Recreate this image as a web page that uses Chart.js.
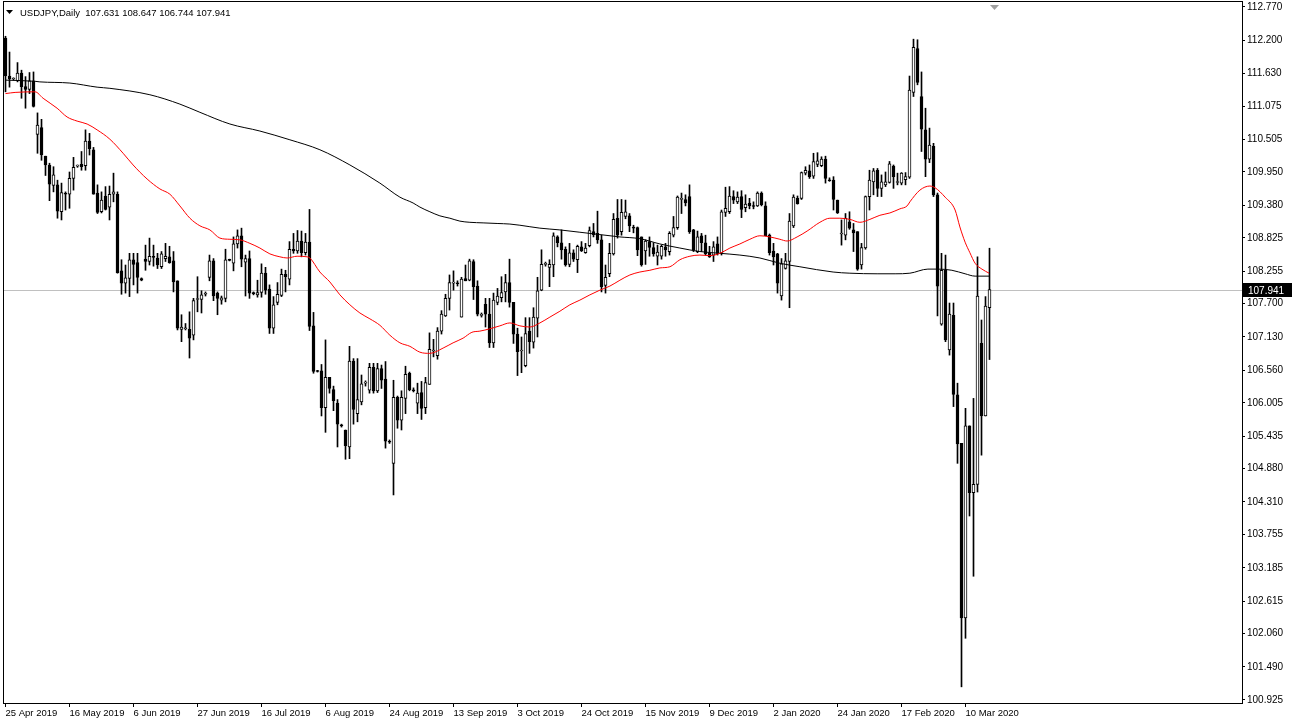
<!DOCTYPE html>
<html><head><meta charset="utf-8">
<script src="https://cdn.jsdelivr.net/npm/chart.js@4.4.1/dist/chart.umd.min.js"></script>
<style>html,body{margin:0;padding:0;background:#fff;overflow:hidden}canvas{display:block}</style>
</head><body>
<canvas id="c" width="1292" height="726" style="width:1292px;height:726px"></canvas>
<script>
const symbolTitle = 'USDJPY,Daily';
const opens = [112.24,111.59,111.54,111.51,111.64,111.41,111.36,111.51,110.59,110.71,110.22,110.07,109.72,109.73,109.27,109.59,109.57,109.84,110.05,110.08,110.06,110.48,110.33,109.59,109.27,109.54,109.35,109.57,109.57,108.26,108.05,108.13,108.45,108.40,108.13,108.46,108.42,108.51,108.48,108.33,108.47,108.50,108.43,108.09,107.26,107.27,107.26,107.16,107.77,107.77,107.86,108.15,108.43,107.88,107.76,107.79,108.45,108.39,108.72,108.86,108.41,108.47,107.88,107.85,107.89,108.22,107.95,107.28,107.72,107.84,108.20,108.12,108.63,108.60,108.77,108.57,108.75,107.32,106.55,106.55,105.92,106.44,106.23,106.00,105.62,105.54,105.25,106.72,105.82,106.02,106.34,106.22,106.61,106.21,106.59,106.41,105.34,104.97,106.10,105.71,106.08,106.51,106.22,106.00,106.18,105.92,106.32,106.89,106.81,107.23,107.49,107.79,108.05,108.05,107.47,108.13,108.10,108.42,108.00,107.50,107.69,107.52,107.03,107.72,107.80,107.90,108.06,107.72,107.18,106.89,106.64,107.23,107.04,107.45,107.93,108.37,108.32,108.36,108.84,108.74,108.63,108.37,108.57,108.45,108.67,108.57,108.69,108.93,108.90,108.79,108.01,108.21,108.55,109.16,108.93,109.19,109.20,109.00,109.00,108.84,108.60,108.76,108.66,108.51,108.51,108.67,108.59,108.87,109.00,109.48,109.48,109.53,108.96,108.59,108.86,108.74,108.56,108.53,108.72,108.56,109.26,109.27,109.53,109.44,109.53,109.34,109.42,109.37,109.37,109.59,109.37,108.87,108.60,108.55,107.83,108.30,108.42,109.03,109.50,109.50,109.93,109.97,109.88,110.08,110.06,110.17,109.81,109.81,109.47,108.89,108.87,109.10,108.96,108.93,108.36,108.65,109.53,109.78,109.98,109.67,109.73,109.77,110.05,109.77,109.76,109.82,109.86,111.31,112.06,111.24,110.67,110.17,110.39,109.56,107.35,108.27,106.91,107.50,106.14,105.31,102.33,105.61,104.47,104.61,107.02,105.78,107.631];
const highs = [112.27,112.00,111.56,111.82,111.69,111.58,111.65,111.66,110.96,110.85,110.22,110.10,110.04,109.81,109.76,109.61,109.95,110.20,110.07,110.30,110.67,110.61,110.37,109.73,109.61,109.70,109.71,109.93,109.61,108.45,108.36,108.56,108.56,108.56,108.14,108.70,108.82,108.70,108.56,108.59,108.73,108.68,108.59,108.09,107.51,107.36,107.56,107.79,108.16,107.92,107.90,108.53,108.47,107.90,107.83,108.63,108.46,108.84,108.96,108.99,108.53,108.60,107.90,108.10,108.38,108.32,108.02,107.82,108.06,108.29,108.27,108.76,108.90,108.95,108.94,108.90,109.31,107.55,106.56,106.66,107.08,106.44,106.29,106.06,105.64,105.54,106.97,106.76,106.76,106.48,106.38,106.68,106.68,106.68,106.65,106.71,105.37,106.39,106.12,106.21,106.63,106.53,106.26,106.34,106.37,106.44,107.20,107.09,107.29,107.58,107.86,108.19,108.26,108.09,108.15,108.36,108.46,108.45,108.09,107.54,107.79,107.79,107.88,107.96,108.16,108.20,108.46,107.72,107.28,107.13,107.46,107.46,107.63,108.15,108.62,108.41,108.45,108.91,108.86,108.96,108.67,108.73,108.62,108.70,108.76,108.73,109.01,109.07,109.28,108.87,108.36,108.73,109.24,109.48,109.48,109.47,109.24,109.04,109.01,108.84,108.79,108.84,108.74,108.70,108.70,108.73,108.93,109.19,109.54,109.59,109.56,109.73,108.97,108.94,108.90,108.87,108.68,108.76,108.84,109.30,109.69,109.70,109.63,109.61,109.63,109.56,109.50,109.44,109.61,109.61,109.44,108.89,108.73,108.56,108.47,108.56,109.24,109.56,109.54,109.95,110.04,110.07,110.27,110.28,110.21,110.22,109.85,109.87,109.47,109.13,109.24,109.27,109.07,108.93,108.73,109.54,109.98,110.01,110.01,109.90,109.95,110.13,110.07,109.93,109.94,109.94,111.59,112.22,112.21,111.66,111.04,110.70,110.44,109.59,108.56,108.53,107.71,107.71,106.34,105.31,105.91,105.61,106.08,108.50,107.42,107.82,108.647];
const lows = [111.32,111.40,111.52,111.49,111.21,111.04,111.29,111.06,110.27,110.15,109.89,109.46,109.61,109.16,109.13,109.30,109.33,109.64,110.03,109.98,109.98,110.24,109.57,109.24,109.25,109.30,109.13,109.44,108.22,107.86,107.88,107.82,108.02,107.88,108.09,108.27,108.36,108.34,108.30,108.30,108.42,108.39,107.90,107.25,107.05,107.25,106.77,107.08,107.56,107.54,107.83,108.09,107.75,107.51,107.69,107.73,108.43,108.26,108.65,108.33,107.83,107.79,107.85,107.81,107.81,107.86,107.19,107.19,107.68,107.82,107.90,108.02,108.56,108.56,108.50,108.53,107.24,106.51,106.53,105.78,105.50,106.17,105.87,105.25,105.59,105.04,105.05,105.64,105.68,105.97,106.29,106.17,106.17,106.18,106.25,105.23,105.31,104.43,105.57,105.54,105.82,106.21,106.19,105.82,105.72,105.82,106.32,106.79,106.75,107.18,107.48,107.59,107.93,108.00,107.47,108.09,108.09,107.77,107.49,107.47,107.30,106.95,106.95,107.68,107.73,107.73,107.64,107.02,106.47,106.52,106.62,106.85,106.94,107.13,107.92,108.34,107.99,108.16,108.67,108.46,108.34,108.33,108.42,108.23,108.59,108.56,108.67,108.84,108.73,107.90,107.88,108.16,108.53,108.82,108.87,109.15,108.93,108.91,108.52,108.34,108.37,108.51,108.51,108.36,108.46,108.51,108.53,108.84,108.97,109.24,109.37,108.90,108.59,108.57,108.59,108.53,108.49,108.42,108.53,108.53,109.19,109.24,109.41,109.41,109.17,109.27,109.32,109.32,109.36,109.37,108.86,108.53,108.36,107.88,107.76,108.29,107.63,109.00,109.40,109.48,109.90,109.84,109.84,110.04,110.04,109.76,109.79,109.30,109.24,108.70,108.79,108.97,108.59,108.27,108.29,108.63,109.30,109.56,109.53,109.53,109.70,109.76,109.67,109.73,109.73,109.73,109.84,111.24,111.44,110.30,109.87,110.11,109.53,107.49,107.33,107.05,106.82,105.94,104.97,101.15,101.98,104.07,103.04,104.48,105.11,105.78,106.744];
const closes = [111.59,111.54,111.55,111.64,111.41,111.36,111.51,111.07,110.75,110.24,110.07,109.74,109.90,109.28,109.60,109.57,109.84,110.03,110.06,110.04,110.48,110.35,109.57,109.26,109.47,109.31,109.57,109.61,108.23,108.05,108.14,108.45,108.37,108.15,108.10,108.42,108.51,108.49,108.36,108.55,108.51,108.40,108.07,107.28,107.30,107.28,107.11,107.75,107.78,107.85,107.87,108.43,107.83,107.79,107.80,108.45,108.44,108.72,108.86,108.46,108.47,107.88,107.87,107.89,108.22,107.93,107.28,107.68,107.86,108.20,108.16,108.63,108.60,108.77,108.57,108.75,107.31,106.54,106.54,105.92,106.44,106.25,106.04,105.64,105.61,105.27,106.72,105.89,106.06,106.33,106.35,106.61,106.21,106.59,106.39,105.35,105.33,106.10,105.71,106.10,106.49,106.23,106.21,106.17,105.91,106.35,106.92,106.90,107.23,107.52,107.79,108.06,108.06,108.04,108.12,108.09,108.43,107.99,107.52,107.51,107.52,107.03,107.76,107.83,107.89,108.06,107.72,107.18,106.88,106.90,107.19,107.05,107.47,107.92,108.37,108.38,108.37,108.86,108.74,108.62,108.36,108.57,108.46,108.68,108.60,108.65,108.95,108.88,108.79,107.99,108.15,108.56,109.14,108.87,109.26,109.27,109.03,108.99,108.62,108.36,108.77,108.66,108.55,108.58,108.68,108.62,108.90,109.00,109.52,109.50,109.42,108.93,108.62,108.84,108.74,108.55,108.50,108.67,108.56,109.27,109.33,109.54,109.47,109.52,109.31,109.40,109.37,109.36,109.59,109.39,108.86,108.57,108.50,108.05,108.38,108.43,109.11,109.52,109.41,109.94,109.98,109.87,110.13,110.14,110.17,109.84,109.80,109.48,109.25,108.90,109.16,108.99,108.91,108.29,108.66,109.53,109.81,109.97,109.67,109.78,109.78,110.09,109.87,109.78,109.93,109.87,111.35,112.08,111.48,110.68,110.17,110.41,109.56,108.00,108.27,107.08,107.52,106.15,105.30,102.33,105.61,104.47,104.61,107.83,105.78,107.66,107.941];

const dateLabels = ['25 Apr 2019','16 May 2019','6 Jun 2019','27 Jun 2019','16 Jul 2019','6 Aug 2019','24 Aug 2019','13 Sep 2019','3 Oct 2019','24 Oct 2019','15 Nov 2019','9 Dec 2019','2 Jan 2020','24 Jan 2020','17 Feb 2020','10 Mar 2020'];
const labelEvery = 16;
const yTickValues = [112.770,112.200,111.630,111.075,110.505,109.950,109.380,108.825,108.255,107.700,107.130,106.560,106.005,105.435,104.880,104.310,103.755,103.185,102.615,102.060,101.490,100.925];

// moving averages (bar index, price)
const maRedIdx = [0,2.4,7.4,9.4,12.9,15.4,17.9,20.4,22.9,26.1,29.4,31.9,35.4,38.6,41.1,43.6,46.1,48.6,51.1,53.6,56.1,58.6,61.1,63.6,66.1,68.6,70.4,72.9,75.4,76.1,78.6,81.1,83.6,86.1,88.6,91.1,93.6,96.1,98.6,101.1,103.6,106.1,109.4,111.9,114.4,116.6,118.6,121.1,123.6,126.1,128.6,131.1,133.6,136.1,138.6,141.1,143.6,146.1,148.6,151.1,153.6,156.1,158.6,161.1,163.6,166.1,168.6,171.1,173.6,176.1,178.6,181.1,183.6,186.1,188.6,191.1,193.6,195.4,197.9,200.4,203.6,206.1,208.6,211.1,213.6,216.1,218.6,221.1,223.6,225.4,226.1,228.6,231.1,232.4,234.9,237.4,238.6,239.9,241.1,242.4,244.1,245.9];
const maRedVal = [111.29,111.31,111.32,111.21,111.04,110.89,110.82,110.77,110.67,110.51,110.27,110.07,109.83,109.66,109.57,109.37,109.16,109.03,108.96,108.82,108.80,108.79,108.73,108.65,108.55,108.50,108.48,108.51,108.50,108.48,108.24,108.07,107.85,107.68,107.54,107.44,107.33,107.16,107.03,106.97,106.87,106.85,106.94,107.03,107.11,107.21,107.23,107.27,107.32,107.37,107.32,107.30,107.37,107.47,107.57,107.68,107.76,107.85,107.93,108.00,108.10,108.19,108.24,108.27,108.31,108.33,108.45,108.51,108.53,108.52,108.56,108.65,108.72,108.80,108.86,108.84,108.80,108.77,108.84,108.94,109.09,109.16,109.16,109.14,109.09,109.14,109.21,109.25,109.32,109.37,109.44,109.64,109.71,109.68,109.52,109.30,109.01,108.75,108.57,108.39,108.29,108.22];
const maBlackIdx = [0,7.4,8.6,16.1,22.9,26.1,36.1,43.6,48.6,56.1,63.6,71.1,78.6,86.1,93.6,98.6,101.9,103.6,106.1,108.6,111.1,113.6,116.1,119.4,122.9,126.1,128.6,133.6,138.6,143.6,148.6,153.6,158.6,163.6,168.6,173.6,178.6,183.6,188.6,193.6,198.6,206.9,211.1,217.9,222.4,226.1,230.6,233.1,236.6,239.9,242.4,245.9];
const maBlackVal = [111.52,111.50,111.49,111.47,111.40,111.38,111.27,111.11,110.97,110.77,110.65,110.50,110.33,110.07,109.76,109.52,109.42,109.35,109.27,109.20,109.16,109.11,109.09,109.08,109.07,109.06,109.04,108.99,108.96,108.92,108.88,108.84,108.81,108.72,108.65,108.59,108.56,108.53,108.48,108.39,108.33,108.24,108.22,108.21,108.21,108.22,108.29,108.29,108.27,108.21,108.17,108.17];

const lastPrice = closes[closes.length - 1];
const pxPerBar = 4, plotLeft = 4, plotRight = 1242, plotTop = 2, plotBottom = 703;
const xMin = -0.375;
const xMax = xMin + (plotRight - plotLeft) / pxPerBar;
const pxPerUnit = (700 - 7) / (yTickValues[0] - yTickValues[yTickValues.length - 1]);
const yMax = yTickValues[0] + (7 - plotTop) / pxPerUnit;
const yMin = yMax - (plotBottom - plotTop) / pxPerUnit;

const idx = opens.map((_, i) => i);
const wickData = idx.map(i => ({x: i, y: [lows[i], highs[i]]}));
const bodyData = idx.map(i => ({x: i, y: [Math.min(opens[i], closes[i]), Math.max(opens[i], closes[i])]}));
const bodyColors = idx.map(i => closes[i] >= opens[i] ? '#ffffff' : '#000000');

const decor = {
  id: 'decor',
  beforeDatasetsDraw(chart) {
    const {ctx, chartArea: a, scales: {y}} = chart;
    const py = Math.round(y.getPixelForValue(lastPrice)) + 0.5;
    ctx.save();
    ctx.strokeStyle = '#c0c0c0'; ctx.lineWidth = 1;
    ctx.beginPath(); ctx.moveTo(a.left, py); ctx.lineTo(a.right, py); ctx.stroke();
    ctx.restore();
  },
  afterDraw(chart) {
    const {ctx, chartArea: a, scales: {y}} = chart;
    ctx.save();
    ctx.strokeStyle = '#000'; ctx.lineWidth = 1;
    ctx.strokeRect(a.left - 0.5, a.top - 0.5, a.right - a.left + 1, a.bottom - a.top + 1);
    ctx.fillStyle = '#000';
    ctx.beginPath(); ctx.moveTo(6, 10); ctx.lineTo(13, 10); ctx.lineTo(9.5, 14); ctx.closePath(); ctx.fill();
    ctx.font = '9.5px "Liberation Sans", sans-serif';
    ctx.textBaseline = 'alphabetic'; ctx.textAlign = 'left';
    const o = opens[opens.length-1], h = highs[highs.length-1], l = lows[lows.length-1], c = closes[closes.length-1];
    ctx.fillText(symbolTitle + '  ' + [o, h, l, c].map(v => v.toFixed(3)).join(' '), 20, 16);
    ctx.fillStyle = '#a0a0a0';
    ctx.beginPath(); ctx.moveTo(990, 5); ctx.lineTo(999, 5); ctx.lineTo(994.5, 10); ctx.closePath(); ctx.fill();
    const py = Math.round(y.getPixelForValue(lastPrice));
    ctx.fillStyle = '#000';
    ctx.fillRect(a.right + 1, py - 7, 49, 14);
    ctx.fillStyle = '#fff';
    ctx.font = '10px "Liberation Sans", sans-serif';
    ctx.textBaseline = 'middle';
    ctx.fillText(lastPrice.toFixed(3), a.right + 6, py + 1);
    ctx.restore();
  }
};

new Chart(document.getElementById('c'), {
  type: 'bar',
  data: {
    datasets: [
      {type: 'line', data: maRedIdx.map((x, k) => ({x, y: maRedVal[k]})), borderColor: '#ff0000', borderWidth: 1, pointRadius: 0, cubicInterpolationMode: 'monotone', order: 0},
      {type: 'line', data: maBlackIdx.map((x, k) => ({x, y: maBlackVal[k]})), borderColor: '#000000', borderWidth: 1, pointRadius: 0, cubicInterpolationMode: 'monotone', order: 0},
      {type: 'bar', data: bodyData, grouped: false, barThickness: 3, backgroundColor: bodyColors, borderColor: '#000', borderWidth: 1, borderSkipped: false, minBarLength: 1, order: 1},
      {type: 'bar', data: wickData, grouped: false, barThickness: 1, backgroundColor: '#000', borderWidth: 0, order: 2}
    ]
  },
  options: {
    responsive: false, animation: false, devicePixelRatio: 1,
    layout: {padding: {left: plotLeft, top: plotTop, right: 0, bottom: 0}},
    plugins: {legend: {display: false}, tooltip: {enabled: false}},
    scales: {
      x: {
        type: 'linear', min: xMin, max: xMax, offset: false,
        afterBuildTicks: ax => { ax.ticks = dateLabels.map((_, k) => ({value: k * labelEvery})); },
        afterFit: ax => { ax.height = 726 - plotBottom; ax.paddingLeft = 0; ax.paddingRight = 0; },
        ticks: {autoSkip: false, maxRotation: 0, align: 'start', padding: 1, color: '#000',
          font: {family: '"Liberation Sans", sans-serif', size: 9.5},
          callback: v => dateLabels[Math.round(v / labelEvery)]},
        grid: {offset: false, drawOnChartArea: false, drawTicks: true, tickLength: 4, color: '#000'},
        border: {display: true, color: '#000'}
      },
      y: {
        type: 'linear', position: 'right', min: yMin, max: yMax,
        afterBuildTicks: ax => { ax.ticks = yTickValues.map(v => ({value: v})); },
        afterFit: ax => { ax.width = 1292 - plotRight; ax.paddingTop = 0; ax.paddingBottom = 0; },
        ticks: {autoSkip: false, padding: 2, color: '#000', font: {family: '"Liberation Sans", sans-serif', size: 10},
          callback: v => v.toFixed(3)},
        grid: {drawOnChartArea: false, drawTicks: true, tickLength: 3, color: '#000'},
        border: {display: true, color: '#000'}
      }
    }
  },
  plugins: [decor]
});
</script>
</body></html>
